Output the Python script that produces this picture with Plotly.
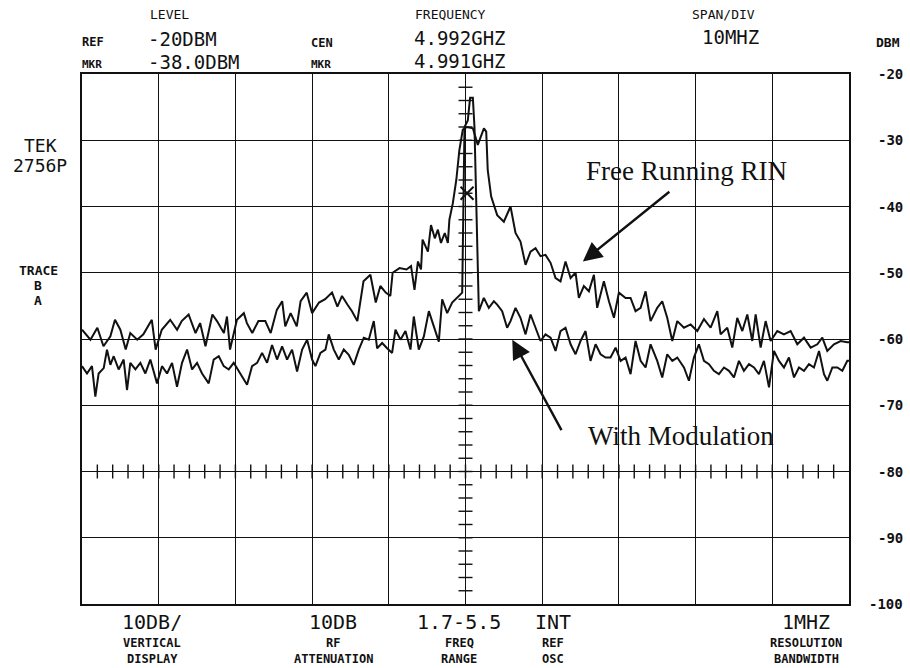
import plotly.graph_objects as go

# ---------------- data (frequency offset from 4.992 GHz centre, MHz ; level dBm) -------------
rin_offset_mhz = [
    -50, -48.9, -48.0, -47.2, -46.3, -45.7, -45.0, -44.3, -43.7, -42.8, -42.0, -40.9, -40.4, -39.6,
    -38.5, -37.6, -37.0, -36.1, -35.2, -34.6, -33.9, -33.0, -32.4, -31.5, -31.1, -30.7, -29.8, -28.9,
    -28.5, -27.8, -27.0, -26.1, -25.4, -24.6, -23.9, -23.5, -22.8, -22.0, -21.5, -20.7, -20.0, -19.1,
    -18.3, -17.4, -16.7, -16.1, -15.4, -14.8, -14.1, -13.3, -12.4, -11.7, -11.1, -10.4, -9.8,
    -9.5, -8.6, -7.7, -7.1, -6.65, -6.2, -5.8, -5.6, -4.9, -4.5, -4.0, -3.6, -3.2, -2.7, -2.3, -2.1,
    -1.65, -1.2, -0.8, -0.35, 0.2, 0.96, 1.6, 2.4, 2.7, 2.9, 3.35,
    4.13, 5.0, 5.87, 6.52, 7.17, 7.83, 8.48, 9.13, 9.78, 10.43, 11.09, 11.74, 12.39, 13.04, 13.70,
    14.35, 14.78, 15.43, 16.09, 16.74, 17.17, 18.04, 18.70, 19.35, 20.0, 20.87, 21.52, 22.17, 22.83,
    23.48, 24.13, 25.0, 25.65, 26.30, 26.96, 27.61, 28.48, 29.35, 30.22, 31.09, 31.96, 32.83, 33.26,
    34.13, 34.78, 35.43, 36.09, 36.74, 37.39, 37.83, 38.48, 39.13, 39.78, 40.65, 41.52, 42.39, 43.26,
    44.13, 45.0, 45.87, 46.52, 47.17, 48.04, 48.91, 49.78, 50,
]
rin_dbm = [
    -58.6, -60.1, -58.3, -61.1, -59.6, -57.1, -58.6, -61.6, -59.1, -60.1, -59.3, -57.1, -61.6, -58.6,
    -57.1, -58.6, -57.3, -56.3, -59.1, -57.6, -61.1, -56.3, -57.3, -59.1, -56.6, -61.6, -57.1, -56.1,
    -57.6, -59.1, -57.3, -57.3, -59.1, -55.6, -54.3, -58.1, -56.1, -58.1, -54.3, -53.0, -56.1, -54.5,
    -54.0, -53.0, -55.1, -53.5, -54.8, -55.8, -57.3, -51.3, -50.3, -54.5, -52.0, -53.0, -53.5,
    -50.0, -49.3, -49.5, -49.0, -52.6, -48.3, -49.5, -45.0, -46.8, -42.8, -44.8, -43.5, -45.5, -44.0, -45.5, -42.0,
    -39.5, -36.0, -31.5, -28.4, -28.0, -28.2, -30.7, -28.2, -28.7, -34.5, -38.5,
    -41.3, -42.3, -40.0, -44.0, -45.3, -48.8, -46.8, -46.3, -47.5, -47.3, -48.5, -50.8, -51.3, -48.3, -50.8,
    -50.0, -53.8, -52.0, -52.8, -50.3, -55.3, -51.3, -54.3, -56.8, -53.0, -53.8, -53.8, -55.8, -55.3,
    -52.8, -57.3, -55.3, -54.3, -56.8, -60.3, -57.3, -58.3, -57.8, -58.8, -57.0, -58.3, -55.8, -59.3,
    -58.3, -61.3, -56.8, -58.8, -56.3, -60.3, -56.3, -61.3, -57.3, -60.3, -58.8, -59.3, -58.8, -60.8,
    -59.8, -61.3, -60.8, -59.8, -61.8, -60.8, -60.3, -60.5, -60.5,
]

mod_offset_mhz = [
    -50, -49.35, -48.7, -48.26, -47.83, -47.17, -46.74, -46.30, -45.87, -45.22, -44.57, -44.13, -43.70,
    -43.04, -42.39, -41.74, -41.09, -40.22, -39.57, -38.91, -38.26, -37.61, -36.96, -36.30, -35.65,
    -35.0, -34.35, -33.48, -32.83, -32.17, -31.52, -30.87, -30.22, -29.35, -28.48, -27.83, -27.17,
    -26.52, -25.87, -25.22, -24.57, -23.91, -23.26, -22.61, -21.96, -21.30, -20.65, -20.0, -19.57,
    -18.91, -18.26, -17.83, -17.17, -16.52, -15.87, -15.22, -14.57, -13.91, -13.26, -12.61, -11.96,
    -11.52, -10.87, -10.22, -9.57, -9.13, -8.48, -7.83, -7.17, -6.74, -6.09, -5.43, -4.78, -4.13,
    -3.48, -3.04, -2.39, -1.74, -1.09, -0.43,
    -0.13, 0.3, 0.6, 0.96, 1.17, 1.4,
    1.74, 2.39, 3.04, 3.70, 4.13, 4.78, 5.43, 5.87, 6.52, 7.17, 7.83, 8.48, 9.13, 9.78, 10.43, 11.09,
    11.74, 12.39, 13.04, 13.70, 14.35, 15.0, 15.65, 16.30, 16.96, 17.61, 18.26, 18.91, 19.57, 20.22,
    20.87, 21.52, 22.17, 22.83, 23.48, 24.13, 25.0, 25.65, 26.30, 26.96, 27.61, 28.48, 29.13, 29.78,
    30.43, 31.09, 31.74, 32.39, 33.04, 33.70, 34.35, 35.0, 35.65, 36.30, 36.96, 37.61, 38.26, 38.91,
    39.57, 40.22, 40.87, 41.52, 42.17, 42.83, 43.48, 44.13, 44.78, 45.43, 46.09, 46.74, 47.17, 47.83,
    48.48, 49.13, 49.78, 50,
]
mod_dbm = [
    -64.1, -65.2, -64.1, -68.7, -65.2, -64.4, -61.6, -63.9, -62.6, -64.6, -63.1, -67.7, -63.6,
    -64.6, -63.6, -65.2, -63.1, -66.7, -64.1, -65.2, -63.6, -67.2, -63.6, -61.6, -64.6,
    -63.6, -65.2, -66.7, -63.1, -62.6, -64.1, -64.6, -63.6, -65.2, -66.9, -64.1, -63.6,
    -62.1, -63.6, -60.9, -63.1, -61.1, -63.1, -61.6, -64.9, -61.6, -60.1, -63.1, -64.1,
    -62.1, -61.6, -59.3, -61.6, -63.1, -61.6, -62.4, -63.9, -61.6, -59.8, -60.1, -57.3,
    -61.4, -60.6, -61.4, -62.1, -58.6, -60.1, -58.8, -61.6, -56.6, -61.6, -59.6, -55.8, -58.1,
    -60.4, -54.0, -56.1, -54.5, -53.8, -53.0,
    -28.0, -27.0, -23.6, -23.6, -28.0, -40.0,
    -55.8, -53.8, -55.3, -54.3, -54.8, -55.8, -58.3, -57.3, -55.3, -56.8, -59.3, -56.3, -58.3, -60.3, -59.3, -59.8,
    -61.8, -58.8, -58.3, -60.8, -62.3, -60.3, -58.8, -63.3, -60.8, -62.3, -62.8, -62.8, -61.3, -63.3,
    -62.8, -65.3, -60.3, -63.3, -64.3, -60.8, -63.3, -65.8, -62.3, -63.3, -62.8, -64.3, -66.3, -62.8,
    -60.8, -63.3, -63.8, -64.8, -65.3, -64.3, -64.8, -65.8, -63.3, -64.8, -63.8, -64.3, -65.3, -63.3,
    -67.3, -61.8, -63.3, -64.3, -62.8, -65.8, -64.3, -64.8, -63.8, -64.3, -61.8, -65.3, -66.3, -64.3,
    -64.3, -64.8, -63.3, -63.3,
]

marker_offset_mhz = [0.2]
marker_dbm = [-38.0]

y_tick_vals = [-20, -30, -40, -50, -60, -70, -80, -90, -100]
y_tick_text = ["-20", "-30", "-40", "-50", "-60", "-70", "-80", "-90", "-100"]

# ---------------- layout constants -------------------------------------------------------
W, H = 910, 668
L, R, T, B = 82, 849, 74, 604
X_RANGE = [-50, 50]
Y_RANGE = [-100, -20]
INK = "#111111"
MONO = "DejaVu Sans Mono"
SERIF = "Liberation Serif"


def px(x):
    return (x - L) / (R - L)


def py(y):
    return (B - y) / (B - T)


fig = go.Figure()

fig.add_trace(go.Scatter(x=rin_offset_mhz, y=rin_dbm, mode="lines",
                         line=dict(color=INK, width=2.0), name="Free Running RIN",
                         hoverinfo="skip"))
fig.add_trace(go.Scatter(x=mod_offset_mhz, y=mod_dbm, mode="lines",
                         line=dict(color=INK, width=2.0), name="With Modulation",
                         hoverinfo="skip"))
fig.add_trace(go.Scatter(x=marker_offset_mhz, y=marker_dbm, mode="markers",
                         marker=dict(symbol="x-thin-open", size=13, color=INK,
                                     line=dict(color=INK, width=2)),
                         hoverinfo="skip"))

shapes = []
# minor ticks on centre vertical graticule line (every 0.2 div = 2 dB)
for k in range(1, 40):
    yv = Y_RANGE[0] + 2 * k
    shapes.append(dict(type="line", xref="x", yref="y", xsizemode="pixel", xanchor=0,
                       x0=-7, x1=7, y0=yv, y1=yv, line=dict(color=INK, width=1.4)))
# minor ticks on the -80 dBm graticule line (every 0.2 div = 2 MHz)
for k in range(1, 50):
    xv = X_RANGE[0] + 2 * k
    shapes.append(dict(type="line", xref="x", yref="y", ysizemode="pixel", yanchor=-80,
                       x0=xv, x1=xv, y0=-7, y1=7, line=dict(color=INK, width=1.4)))

annotations = []


def txt(s, x, y, size, anchor="left", font=MONO, color=INK):
    annotations.append(dict(text=s, x=px(x), y=py(y), xref="paper", yref="paper",
                            xanchor=anchor, yanchor="middle", showarrow=False,
                            font=dict(family=font, size=size, color=color)))


# header
txt("LEVEL", 148, 15, 13)
txt("<b>REF</b>", 80, 42, 12)
txt("-20DBM", 146, 39, 19)
txt("<b>MKR</b>", 80, 64, 11)
txt("-38.0DBM", 146, 62, 19)
txt("<b>CEN</b>", 309, 43, 12)
txt("<b>MKR</b>", 309, 65, 11)
txt("FREQUENCY", 413, 15, 13)
txt("4.992GHZ", 412, 38, 19)
txt("4.991GHZ", 412, 61, 19)
txt("SPAN/DIV", 690, 15, 13)
txt("10MHZ", 700, 37, 19)
txt("<b>DBM</b>", 874, 42, 13)

# right scale labels
for v, t in zip(y_tick_vals, y_tick_text):
    annotations.append(dict(text="<b>" + t + "</b>", x=px(905), y=v, xref="paper", yref="y",
                            xanchor="right", yanchor="middle", showarrow=False,
                            font=dict(family=MONO, size=14, color=INK)))

# left side
txt("TEK", 40, 145, 18, "center")
txt("2756P", 40, 165, 18, "center")
txt("<b>TRACE</b>", 38, 270, 13, "center")
txt("<b>B</b>", 38, 285, 13, "center")
txt("<b>A</b>", 38, 300, 13, "center")

# bottom
bottom = [
    (152, "10DB/", "VERTICAL", "DISPLAY"),
    (333, "10DB", "RF", "ATTENUATION"),
    (459, "1.7-5.5", "FREQ", "RANGE"),
    (553, "INT", "REF", "OSC"),
    (806, "1MHZ", "RESOLUTION", "BANDWIDTH"),
]
for cx, a, b, c in bottom:
    txt(a, cx, 622, 20, "center")
    txt("<b>" + b + "</b>", cx, 643, 12, "center")
    txt("<b>" + c + "</b>", cx, 659, 12, "center")

# callouts
annotations.append(dict(text="Free Running RIN", x=px(686), y=py(171), xref="paper", yref="paper",
                        showarrow=False, xanchor="center", yanchor="middle",
                        font=dict(family=SERIF, size=27, color=INK)))
annotations.append(dict(text="", x=15.3, y=-48.3, xref="x", yref="y", showarrow=True,
                        ax=88, ay=-71, arrowhead=2, arrowsize=1.6, arrowwidth=2.4,
                        arrowcolor=INK))
annotations.append(dict(text="With Modulation", x=px(681), y=py(436), xref="paper", yref="paper",
                        showarrow=False, xanchor="center", yanchor="middle",
                        font=dict(family=SERIF, size=27, color=INK)))
annotations.append(dict(text="", x=6.1, y=-60.1, xref="x", yref="y", showarrow=True,
                        ax=50, ay=92, arrowhead=2, arrowsize=1.6, arrowwidth=2.4,
                        arrowcolor=INK))

fig.update_layout(
    width=W, height=H,
    margin=dict(l=L, r=W - R, t=T, b=H - B, pad=0),
    paper_bgcolor="white", plot_bgcolor="white",
    showlegend=False,
    shapes=shapes,
    annotations=annotations,
    xaxis=dict(range=X_RANGE, dtick=10, tick0=-50, showgrid=True, gridcolor=INK, gridwidth=1.3,
               showticklabels=False, ticks="", zeroline=False,
               showline=True, linecolor=INK, linewidth=1.6, mirror=True),
    yaxis=dict(range=Y_RANGE, dtick=10, tick0=-100, showgrid=True, gridcolor=INK, gridwidth=1.3,
               showticklabels=False, ticks="", zeroline=False,
               showline=True, linecolor=INK, linewidth=1.6, mirror=True),
)

fig.write_html("out.html")
